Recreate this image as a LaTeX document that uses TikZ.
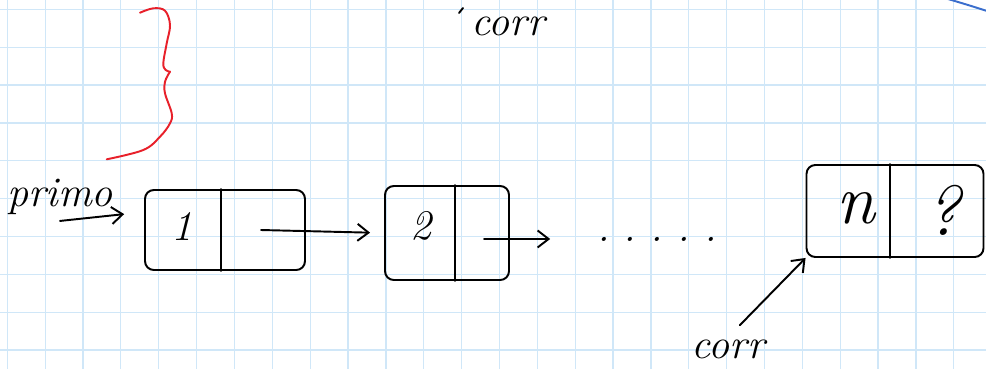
\documentclass[tikz,border=0pt]{standalone}
\usepackage{tikz}
\usetikzlibrary{positioning,arrows.meta}

\definecolor{gridblue}{RGB}{208,231,248}
\definecolor{inkred}{RGB}{232,32,42}
\definecolor{inkblue}{RGB}{58,110,205}

\begin{document}
\begin{tikzpicture}[
  x=0.02cm, y=-0.02cm,
  gridline/.style={draw=gridblue, line width=0.7pt},
  ink/.style={line width=1.1pt, line cap=round, line join=round},
  cell/.style={draw, ink, rounded corners=5pt, inner sep=0pt},
  hand/.style={font=\fontsize{24}{28}\selectfont\itshape, inner sep=1pt},
  bighand/.style={font=\fontsize{40}{46}\selectfont\itshape, inner sep=1pt},
  arrow/.style={ink, -{Straight Barb[length=2.2mm, width=3.4mm]}}
]
  \useasboundingbox (0,0) rectangle (986,369);
  \fill[white] (0,0) rectangle (986,369);
  % squared paper
  \foreach \k in {0,...,25}
    \draw[gridline] ({7.3+37.86*\k},0) -- ({7.3+37.86*\k},369);
  \foreach \k in {0,...,9}
    \draw[gridline] (0,{9.3+37.86*\k}) -- (986,{9.3+37.86*\k});

  % list cells
  \node[cell, minimum width=3.2cm, minimum height=1.6cm] (b1) at (225,230) {};
  \node[cell, minimum width=2.48cm, minimum height=1.88cm] (b2) at (447,233) {};
  \node[cell, minimum width=3.54cm, minimum height=1.84cm] (bn) at (895,211) {};
  \draw[ink] (b1.north -| 221,0) -- (b1.south -| 221,0);
  \draw[ink] (b2.north -| 455,0) -- (b2.south -| 455,0);
  \draw[ink] (bn.north -| 890,0) -- (bn.south -| 890,0);

  \node[hand] (v1) at (182,226) {1};
  \node[hand] (v2) at (421,226) {2};
  \node[bighand] (vn) at (856,208) {n};
  \node[bighand] (nx) at (943,210) {?};

  \coordinate (p1) at (261,230);
  \coordinate (p2) at (484,239);
  \node[hand, anchor=base] (dots) at (657,241) {.\hspace{8pt}.\hspace{8pt}.\hspace{8pt}.\hspace{8pt}.};

  % labels
  \node[hand, anchor=base] (primo) at (60,206) {primo};
  \node[hand, anchor=base] (corr) at (728,358) {corr};
  \node[hand, anchor=base] (corrtop) at (508,35) {corr};

  \draw[arrow, shorten >=0.4cm] ([yshift=-8.5pt]primo.base) -- ([yshift=0.36cm]b1.west);
  \draw[arrow, shorten >=0.28cm] (p1) -- (b2.west);
  \draw[arrow, shorten >=0.9cm] (p2) -- (dots.west);
  \draw[arrow, shorten <=0.34cm] (corr.north) -- (bn.south west);

  % marks in colour
  \draw[ink, inkred] plot[smooth, tension=0.6] coordinates {(140,12.7) (153.3,8.3) (165,10.7) (170,25) (166.7,43.3) (163.3,63.3) (165.7,70) (170,71.7)};
  \draw[ink, inkred] plot[smooth, tension=0.6] coordinates {(170,71.7) (165,81.7) (165,93.3) (171.7,113.3) (170,123.3) (160,136.7) (143.3,150) (106.7,159.3)};
  \draw[ink, inkblue] plot[smooth] coordinates {(948,-1) (968,5) (987,11)};
  \draw[ink] (463,8) -- (459,13);
\end{tikzpicture}
\end{document}
